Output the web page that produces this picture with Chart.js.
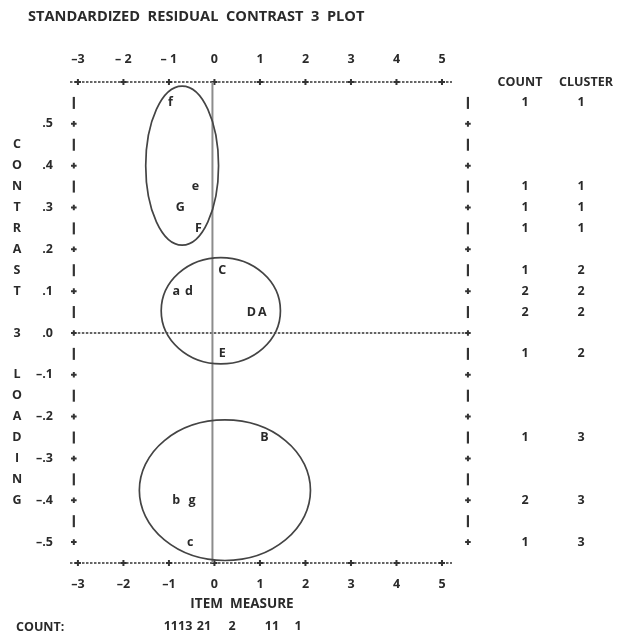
<!DOCTYPE html>
<html>
<head>
<meta charset="utf-8">
<script src="https://cdn.jsdelivr.net/npm/chart.js@4.4.1/dist/chart.umd.min.js"></script>
<style>
  html, body { margin: 0; padding: 0; background: #ffffff; }
  #wrap { width: 628px; height: 634px; position: relative; }
  canvas { display: block; }
</style>
</head>
<body>
<div id="wrap"><canvas id="c" width="628" height="634" style="width:628px;height:634px"></canvas></div>
<script>
// ---------------- data ----------------
const titleText = 'STANDARDIZED  RESIDUAL  CONTRAST  3  PLOT';
const xTickValues = [-3, -2, -1, 0, 1, 2, 3, 4, 5];
const xTopTickLabels = ['–3', '– 2', '– 1', '0', '1', '2', '3', '4', '5'];
const xBottomTickLabels = ['–3', '–2', '–1', '0', '1', '2', '3', '4', '5'];
const yTickValues = [0.5, 0.4, 0.3, 0.2, 0.1, 0, -0.1, -0.2, -0.3, -0.4, -0.5];
const yTickLabels = ['.5', '.4', '.3', '.2', '.1', '.0', '–.1', '–.2', '–.3', '–.4', '–.5'];
const yAxisLetters = ['C','O','N','T','R','A','S','T','','3','','L','O','A','D','I','N','G'];
const yAxisLetterRows = [0.45,0.40,0.35,0.30,0.25,0.20,0.15,0.10,0.05,0.00,-0.05,-0.10,-0.15,-0.20,-0.25,-0.30,-0.35,-0.40];
const frameRows = [0.55,0.50,0.45,0.40,0.35,0.30,0.25,0.20,0.15,0.10,0.05,0.00,-0.05,-0.10,-0.15,-0.20,-0.25,-0.30,-0.35,-0.40,-0.45,-0.50];

const itemLabels  = ['f', 'e', 'G', 'F', 'C', 'a', 'd', 'D', 'A', 'E', 'B', 'b', 'g', 'c'];
const itemMeasure = [-0.97, -0.42, -0.75, -0.35, 0.17, -0.84, -0.56, 0.81, 1.05, 0.17, 1.10, -0.84, -0.49, -0.53];
const itemLoading = [0.55, 0.35, 0.30, 0.25, 0.15, 0.10, 0.10, 0.05, 0.05, -0.05, -0.25, -0.40, -0.40, -0.50];

const rowLoading = [0.55, 0.35, 0.30, 0.25, 0.15, 0.10, 0.05, -0.05, -0.25, -0.40, -0.50];
const rowCount   = [1, 1, 1, 1, 1, 2, 2, 1, 1, 2, 1];
const rowCluster = [1, 1, 1, 1, 2, 2, 2, 2, 3, 3, 3];

// cluster outlines (centre / radii in measure and loading units)
const clusterEllipseCx = [-0.71, 0.14, 0.23];
const clusterEllipseCy = [0.40, 0.053, -0.376];
const clusterEllipseRx = [0.80, 1.31, 1.88];
const clusterEllipseRy = [0.19, 0.127, 0.168];

const countLineTokens = ['1113', '21', '2', '11', '1'];
const countLineTokenX = [178, 204, 232, 272, 298];

// ---------------- style ----------------
const INK = '#2a2a2a';
const FONT = "'Open Sans', Lato, sans-serif";
const LEFT_FRAME = -3.09;
const RIGHT_FRAME = 5.57;

function f(size) { return { family: FONT, size: size, weight: 'bold', lineHeight: 1.2 }; }

const textPlot = {
  id: 'textPlot',
  beforeDatasetsDraw(chart) {
    const { ctx, chartArea: a, scales } = chart;
    const x = scales.x, y = scales.y;
    ctx.save();
    ctx.strokeStyle = '#333333';
    const dotted = (yy, x0, x1) => {
      ctx.beginPath(); ctx.setLineDash([2.5, 1.5]); ctx.lineWidth = 1.4;
      ctx.moveTo(x0, yy); ctx.lineTo(x1, yy); ctx.stroke(); ctx.setLineDash([]);
    };
    const plus = (cx, cy, s) => {
      ctx.beginPath(); ctx.lineWidth = 2;
      ctx.moveTo(cx - s, cy); ctx.lineTo(cx + s, cy);
      ctx.moveTo(cx, cy - s); ctx.lineTo(cx, cy + s); ctx.stroke();
    };
    const bar = (cx, cy, h) => {
      ctx.beginPath(); ctx.lineWidth = 2.2;
      ctx.moveTo(cx, cy - h / 2); ctx.lineTo(cx, cy + h / 2); ctx.stroke();
    };
    dotted(a.top, a.left - 2, a.right);
    dotted(a.bottom, a.left - 2, a.right);
    xTickValues.forEach(v => {
      plus(x.getPixelForValue(v), a.top, 3);
      plus(x.getPixelForValue(v), a.bottom, 3);
    });
    const xl = x.getPixelForValue(LEFT_FRAME), xr = x.getPixelForValue(RIGHT_FRAME);
    dotted(y.getPixelForValue(0), xl, xr);
    frameRows.forEach((v, k) => {
      const yy = y.getPixelForValue(v);
      [xl, xr].forEach(cx => { if (k % 2 === 1) plus(cx, yy, 2.8); else bar(cx, yy, 12); });
    });
    // vertical zero line
    ctx.strokeStyle = '#8c8c8c'; ctx.lineWidth = 2;
    ctx.beginPath();
    ctx.moveTo(x.getPixelForValue(0) - 2, a.top); ctx.lineTo(x.getPixelForValue(0) - 2, a.bottom);
    ctx.stroke();
    // cluster ellipses
    ctx.strokeStyle = '#444444'; ctx.lineWidth = 1.7;
    clusterEllipseCx.forEach((cxv, i) => {
      const cx = x.getPixelForValue(cxv), cy = y.getPixelForValue(clusterEllipseCy[i]);
      const rx = Math.abs(x.getPixelForValue(cxv + clusterEllipseRx[i]) - cx);
      const ry = Math.abs(y.getPixelForValue(clusterEllipseCy[i] + clusterEllipseRy[i]) - cy);
      ctx.beginPath(); ctx.ellipse(cx, cy, rx, ry, 0, 0, Math.PI * 2); ctx.stroke();
    });
    ctx.restore();
  },
  afterDatasetsDraw(chart) {
    const { ctx, chartArea: a, scales } = chart;
    const y = scales.y;
    ctx.save();
    ctx.fillStyle = INK;
    ctx.textBaseline = 'middle';
    ctx.textAlign = 'center';
    ctx.font = 'bold 12.5px ' + FONT;
    const meta = chart.getDatasetMeta(0);
    meta.data.forEach((pt, i) => ctx.fillText(itemLabels[i], pt.x, pt.y));
    yAxisLetters.forEach((ch, i) => { if (ch) ctx.fillText(ch, 17, y.getPixelForValue(yAxisLetterRows[i])); });
    ctx.fillText('COUNT', a.right + 68, a.top);
    ctx.fillText('CLUSTER', a.right + 134, a.top);
    rowLoading.forEach((v, i) => {
      const yy = y.getPixelForValue(v);
      ctx.fillText(String(rowCount[i]), a.right + 73, yy);
      ctx.fillText(String(rowCluster[i]), a.right + 129, yy);
    });
    ctx.font = 'bold 13.5px ' + FONT;
    ctx.fillText('ITEM  MEASURE', 242, 604);
    ctx.font = 'bold 12.5px ' + FONT;
    ctx.textAlign = 'left';
    ctx.fillText('COUNT:', 16, 627);
    ctx.textAlign = 'center';
    countLineTokens.forEach((t, i) => ctx.fillText(t, countLineTokenX[i], 626));
    ctx.restore();
  }
};

const xCommon = {
  type: 'linear', min: -3.13, max: 5.22,
  grid: { display: false, drawTicks: false },
  border: { display: false },
  afterBuildTicks: s => { s.ticks = xTickValues.map(v => ({ value: v })); }
};

new Chart(document.getElementById('c'), {
  type: 'scatter',
  data: {
    datasets: [{
      label: 'items',
      data: itemLabels.map((l, i) => ({ x: itemMeasure[i], y: itemLoading[i] })),
      pointRadius: 0, pointHoverRadius: 0, showLine: false
    }]
  },
  options: {
    responsive: false,
    animation: false,
    devicePixelRatio: 1,
    layout: { padding: { left: 28, right: 176, top: 0, bottom: 41 } },
    plugins: {
      legend: { display: false },
      tooltip: { enabled: false },
      title: {
        display: true, text: titleText, align: 'start', color: INK,
        font: { family: FONT, size: 14.6, weight: 'bold', lineHeight: 1 },
        padding: { top: 10, bottom: 9.4 }
      }
    },
    scales: {
      x: Object.assign({}, xCommon, {
        position: 'bottom',
        ticks: { callback: (v, i) => xBottomTickLabels[i], font: f(12.5), color: INK, padding: 14, maxRotation: 0, autoSkip: false },
        afterFit: s => { s.height = 30; }
      }),
      x2: Object.assign({}, xCommon, {
        position: 'top',
        ticks: { callback: (v, i) => xTopTickLabels[i], font: f(12.5), color: INK, padding: 15, maxRotation: 0, autoSkip: false },
        afterFit: s => { s.height = 48; }
      }),
      y: {
        type: 'linear', min: -0.55, max: 0.6, position: 'left',
        grid: { display: false, drawTicks: false },
        border: { display: false },
        afterBuildTicks: s => { s.ticks = yTickValues.map(v => ({ value: v })); },
        ticks: { callback: (v, i) => yTickLabels[i], font: f(12.5), color: INK, padding: 19, autoSkip: false },
        afterFit: s => { s.width = 44; }
      }
    }
  },
  plugins: [textPlot]
});
</script>
</body>
</html>
